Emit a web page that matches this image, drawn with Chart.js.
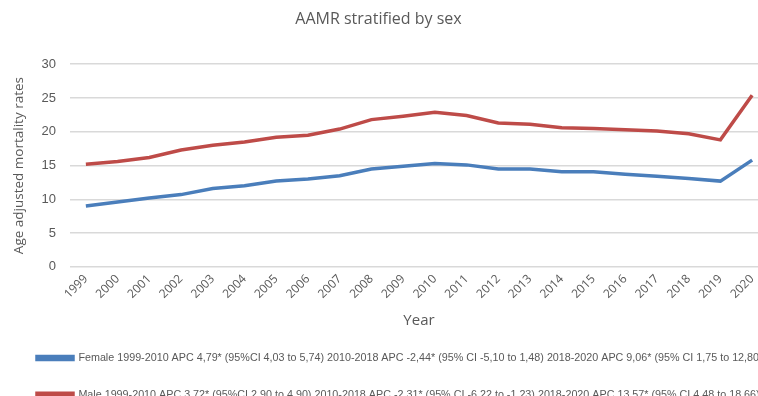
<!DOCTYPE html>
<html lang="en">
<head>
    <meta charset="UTF-8">
    <title>AAMR stratified by sex</title>
    <script src="https://cdn.jsdelivr.net/npm/chart.js"></script>
    <style>
        html, body {
            margin: 0;
            padding: 0;
            background: #ffffff;
            overflow: hidden;
        }
        .chart-container {
            width: 758px;
            height: 396px;
            overflow: hidden;
        }
    </style>
</head>
<body>
    <div class="chart-container">
        <canvas id="aamrChart" width="768" height="410"></canvas>
    </div>
    <script>
        const years = ['1999', '2000', '2001', '2002', '2003', '2004', '2005', '2006', '2007', '2008', '2009',
                       '2010', '2011', '2012', '2013', '2014', '2015', '2016', '2017', '2018', '2019', '2020'];

        const femaleRates = [9.0, 9.6, 10.2, 10.7, 11.6, 12.0, 12.7, 13.0, 13.5, 14.5, 14.9,
                             15.3, 15.1, 14.5, 14.5, 14.1, 14.1, 13.7, 13.4, 13.1, 12.7, 15.8];
        const maleRates = [15.2, 15.6, 16.2, 17.3, 18.0, 18.5, 19.2, 19.5, 20.4, 21.8, 22.3,
                           22.9, 22.4, 21.3, 21.1, 20.6, 20.5, 20.3, 20.1, 19.7, 18.8, 25.4];

        const femaleLabel = 'Female 1999-2010 APC 4,79* (95%CI 4,03 to 5,74) 2010-2018 APC -2,44* (95% CI -5,10 to 1,48) 2018-2020 APC 9,06* (95% CI 1,75 to 12,80)';
        const maleLabel = 'Male 1999-2010 APC 3,72* (95%CI 2,90 to 4,90) 2010-2018 APC -2,31* (95% CI -6,22 to -1,23) 2018-2020 APC 13,57* (95% CI 4,48 to 18,66)';

        const textGray = '#595959';
        const gridGray = '#d9d9d9';

        // nudge the title back to the middle of the visible area
        const titleShift = {
            id: 'titleShift',
            afterLayout(chart) {
                if (chart.titleBlock) {
                    chart.titleBlock.left -= 11;
                    chart.titleBlock.right -= 11;
                }
            }
        };

        const ctx = document.getElementById('aamrChart').getContext('2d');
        new Chart(ctx, {
            type: 'line',
            data: {
                labels: years,
                datasets: [
                    {
                        label: femaleLabel,
                        data: femaleRates,
                        borderColor: '#4a7ebb',
                        backgroundColor: '#4a7ebb',
                        borderWidth: 3.5,
                        pointRadius: 0,
                        tension: 0,
                        fill: false
                    },
                    {
                        label: maleLabel,
                        data: maleRates,
                        borderColor: '#be4b48',
                        backgroundColor: '#be4b48',
                        borderWidth: 3.5,
                        pointRadius: 0,
                        tension: 0,
                        fill: false
                    }
                ]
            },
            options: {
                responsive: false,
                animation: false,
                layout: {
                    padding: { left: 11, right: 0, top: 0, bottom: 0 }
                },
                plugins: {
                    title: {
                        display: true,
                        text: 'AAMR stratified by sex',
                        color: textGray,
                        font: { family: 'Open Sans', size: 16, weight: 'normal' },
                        padding: { top: 10, bottom: 35 }
                    },
                    legend: {
                        display: true,
                        position: 'bottom',
                        align: 'start',
                        labels: {
                            color: textGray,
                            font: { family: 'Liberation Sans', size: 10.75 },
                            boxWidth: 36,
                            boxHeight: 3,
                            padding: 26
                        }
                    },
                    tooltip: { enabled: false }
                },
                scales: {
                    x: {
                        offset: true,
                        grid: { display: false, drawTicks: false },
                        border: { display: false },
                        ticks: {
                            color: textGray,
                            font: { family: 'Open Sans', size: 12 },
                            minRotation: 45,
                            maxRotation: 45,
                            autoSkip: false,
                            padding: 5
                        },
                        title: {
                            display: true,
                            text: 'Year',
                            color: textGray,
                            font: { family: 'Open Sans', size: 15 },
                            padding: { top: 5, bottom: -3 }
                        }
                    },
                    y: {
                        min: 0,
                        max: 30,
                        ticks: {
                            stepSize: 5,
                            color: textGray,
                            font: { family: 'Liberation Sans', size: 13 },
                            padding: 14
                        },
                        grid: { color: gridGray, lineWidth: 1.5, drawTicks: false },
                        border: { display: false },
                        title: {
                            display: true,
                            text: 'Age adjusted mortality rates',
                            color: textGray,
                            font: { family: 'Open Sans', size: 13.5 },
                            padding: { top: 0, bottom: 0 }
                        },
                        afterFit(scale) {
                            scale.width = 59;
                        }
                    }
                }
            },
            plugins: [titleShift]
        });
    </script>
</body>
</html>
